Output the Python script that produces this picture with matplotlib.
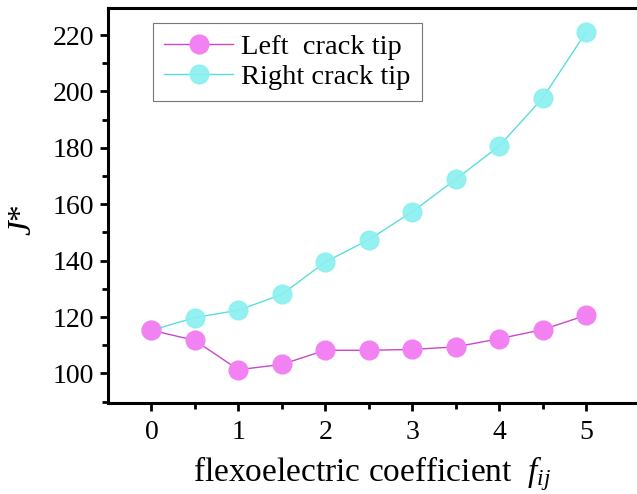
import numpy as np
import matplotlib as mpl
import matplotlib.pyplot as plt
from matplotlib.ticker import FixedLocator

# data
f_ij = [0, 0.5, 1, 1.5, 2, 2.5, 3, 3.5, 4, 4.5, 5]
left_tip = [115.3, 111.7, 101.3, 103.2, 108.2, 108.2, 108.5, 109.4, 112.3, 115.5, 120.6]
right_tip = [115.3, 119.8, 122.4, 128.0, 139.5, 147.4, 157.3, 168.8, 180.6, 197.6, 221.0]

mpl.rcParams.update({
    "font.family": "serif",
    "font.serif": ["Liberation Serif", "DejaVu Serif"],
    "mathtext.fontset": "custom",
    "mathtext.it": "Liberation Serif:italic",
    "mathtext.rm": "Liberation Serif",
})

fig = plt.figure(figsize=(6.37, 4.94), dpi=100)
ax = fig.add_axes([108 / 637, 91 / 494, 1 - 108 / 637, 395 / 494])

ax.plot(f_ij, left_tip, color="#c848c8", lw=1.0, marker="o", ms=13.5,
        mfc="#f282f2", mec="#f282f2", label="Left  crack tip", zorder=3)
ax.plot(f_ij, right_tip, color="#48dada", lw=1.0, marker="o", ms=13.5,
        mfc="#8af0f0", mec="#8af0f0", alpha=0.9, label="Right crack tip",
        zorder=2)

ax.set_xlim(-0.5, 5.587)
ax.set_ylim(89.5, 229.6)
ax.xaxis.set_major_locator(FixedLocator([0, 1, 2, 3, 4, 5]))
ax.xaxis.set_minor_locator(FixedLocator([0.5, 1.5, 2.5, 3.5, 4.5]))
ax.yaxis.set_major_locator(FixedLocator(np.arange(100, 221, 20)))
ax.yaxis.set_minor_locator(FixedLocator(np.arange(90, 230, 20)))
ax.tick_params(which="major", direction="out", length=6, width=2,
               labelsize=20, pad=4)
ax.tick_params(axis="x", which="major", pad=6)
ax.tick_params(which="minor", direction="out", length=4, width=2)

for s in ("left", "bottom", "top"):
    ax.spines[s].set_linewidth(2.2)
ax.spines["right"].set_visible(False)

ax.set_xlabel(r"flexoelectric coefficient  $f_{ij}$", fontsize=24, labelpad=7)
ax.set_ylabel(r"$J$*", fontsize=24)
ax.yaxis.set_label_coords(-0.132, 0.463)

leg = ax.legend(loc="upper left", bbox_to_anchor=(0.085, 0.962), fontsize=20.5,
                frameon=True, fancybox=False, edgecolor="#555555",
                borderpad=0.4, handlelength=2.4, labelspacing=0.12,
                handletextpad=0.3, borderaxespad=0)
leg.get_frame().set_linewidth(0.8)

fig.savefig("out.png", dpi=100)
